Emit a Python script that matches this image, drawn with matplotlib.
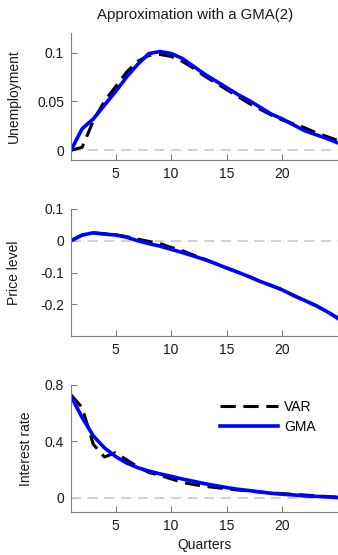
import matplotlib
matplotlib.use("Agg")
import matplotlib.pyplot as plt

plt.rcParams['font.family'] = ['Liberation Sans', 'DejaVu Sans']
plt.rcParams['axes.unicode_minus'] = False

quarters = list(range(1, 26))

unemp_var = [0.0, 0.003, 0.030, 0.050, 0.065, 0.080, 0.091, 0.097, 0.098, 0.096,
             0.091, 0.084, 0.076, 0.069, 0.062, 0.055, 0.048, 0.042, 0.036, 0.031,
             0.027, 0.023, 0.018, 0.014, 0.010]
unemp_gma = [0.0, 0.022, 0.032, 0.046, 0.060, 0.075, 0.088, 0.099, 0.101, 0.099,
             0.094, 0.086, 0.078, 0.071, 0.064, 0.057, 0.051, 0.044, 0.037, 0.032,
             0.026, 0.020, 0.016, 0.012, 0.0075]

price_var = [0.0, 0.018, 0.025, 0.022, 0.019, 0.013, 0.005, -0.002, -0.009, -0.021,
             -0.031, -0.045, -0.058, -0.072, -0.086, -0.099, -0.113, -0.128, -0.141, -0.154,
             -0.173, -0.188, -0.204, -0.222, -0.243]
price_gma = [0.0, 0.018, 0.025, 0.021, 0.018, 0.011, 0.0, -0.009, -0.017, -0.027,
             -0.037, -0.048, -0.059, -0.072, -0.086, -0.099, -0.113, -0.128, -0.141, -0.155,
             -0.172, -0.188, -0.204, -0.223, -0.245]

rate_var = [0.73, 0.64, 0.38, 0.29, 0.32, 0.27, 0.22, 0.18, 0.16, 0.135,
            0.11, 0.095, 0.083, 0.073, 0.064, 0.056, 0.049, 0.041, 0.035, 0.030,
            0.025, 0.020, 0.015, 0.010, 0.005]
rate_gma = [0.72, 0.57, 0.44, 0.355, 0.294, 0.247, 0.214, 0.19, 0.17, 0.153,
            0.134, 0.118, 0.101, 0.087, 0.073, 0.061, 0.052, 0.042, 0.033, 0.026,
            0.021, 0.014, 0.011, 0.007, 0.002]

panels = [
    ("Unemployment", unemp_var, unemp_gma, (-0.01, 0.12), [0, 0.05, 0.1], ["0", "0.05", "0.1"], -0.187),
    ("Price level", price_var, price_gma, (-0.3, 0.1), [-0.2, -0.1, 0, 0.1], ["-0.2", "-0.1", "0", "0.1"], -0.187),
    ("Interest rate", rate_var, rate_gma, (-0.1, 0.8), [0, 0.4, 0.8], ["0", "0.4", "0.8"], -0.142),
]

W, H = 338, 555
fig = plt.figure(figsize=(W / 100, H / 100), dpi=100)

tops = [33, 209, 385]
height = 127
left, right = 71, 338
spine_col = '#808080'

for (label, var, gma, ylim, yt, ytl, lab_x), top in zip(panels, tops):
    ax = fig.add_axes([left / W, 1 - (top + height) / H, (right - left) / W, height / H])
    ax.plot([1, 25], [0, 0], color='#c8c8c8', lw=1.2, dashes=(6, 4))
    l1, = ax.plot(quarters, var, color='black', lw=2.2, dashes=(5, 2.5), label='VAR')
    l2, = ax.plot(quarters, gma, color='#0000ff', lw=2.6, label='GMA')
    ax.set_xlim(1, 25)
    ax.set_ylim(*ylim)
    ax.set_xticks([5, 10, 15, 20])
    ax.set_yticks(yt)
    ax.set_yticklabels(ytl)
    ax.tick_params(direction='in', length=4, color=spine_col, labelsize=10, labelcolor='#1a1a1a', pad=5)
    for s in ['top', 'right']:
        ax.spines[s].set_visible(False)
    for s in ['left', 'bottom']:
        ax.spines[s].set_color(spine_col)
    ax.set_ylabel(label, fontsize=10, color='#1a1a1a')
    ax.yaxis.set_label_coords(lab_x, 0.5)
    if label == "Interest rate":
        ax.set_xlabel("Quarters", fontsize=10, color='#1a1a1a', labelpad=4)
        ax.legend(handles=[l1, l2], loc='upper left', frameon=False, fontsize=10,
                  handlelength=4.2, handletextpad=0.4, labelspacing=0.45, borderpad=0,
                  borderaxespad=0, bbox_to_anchor=(0.558, 0.885))

fig.text(195 / W, 1 - 15 / H, "Approximation with a GMA(2)", ha='center', va='center',
         fontsize=10.8, color='#1a1a1a')

fig.savefig("out.png", dpi=100)
